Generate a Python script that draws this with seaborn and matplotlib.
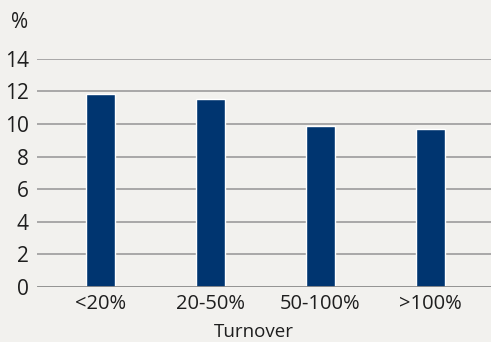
import matplotlib
matplotlib.use("Agg")
import matplotlib.pyplot as plt
import seaborn as sns
import pandas as pd

categories = ["<20%", "20-50%", "50-100%", ">100%"]
values = [11.85, 11.55, 9.87, 9.7]
yticks = [0, 2, 4, 6, 8, 10, 12, 14]

bg = "#f2f1ee"
bar_color = "#003570"
txt = "#1e1e1e"

sns.set_theme(style="white")
plt.rcParams['font.family'] = ['Open Sans', 'DejaVu Sans']

df = pd.DataFrame({"Turnover": categories, "value": values})

fig = plt.figure(figsize=(4.91, 3.42), dpi=100, facecolor=bg)
ax = fig.add_axes([37/491, 55/342, (491-37)/491, (287-58.7)/342])
ax.set_facecolor(bg)
ax.set_axisbelow(True)

sns.barplot(data=df, x="Turnover", y="value", color=bar_color, width=0.264,
            saturation=1, ax=ax)
for p in ax.patches:
    p.set_zorder(3)

ax.set_ylim(0, 14)
ax.set_xlim(-0.577, 3.55)
ax.set_yticks(yticks)
ax.set_yticklabels([str(t) for t in yticks], fontsize=15, color=txt)
ax.tick_params(axis="y", length=0, pad=6)
ax.tick_params(axis="x", length=0, pad=5, labelsize=14.5, labelcolor=txt)
for t in yticks[1:]:
    ax.axhline(t, color="#a8a8a8", lw=1.4, zorder=1)
ax.axhline(0, color="#8a8a8a", lw=2, zorder=4)
for s in ax.spines.values():
    s.set_visible(False)
ax.set_ylabel("")
ax.set_xlabel("")
fig.text(253.5/491, 1-332/342, "Turnover", fontsize=13.5, color=txt, ha="center", va="center")
fig.text(20/491, 1-22/342, "%", fontsize=15, color=txt, ha="center", va="center")

fig.savefig("out.png", dpi=100, facecolor=bg)
